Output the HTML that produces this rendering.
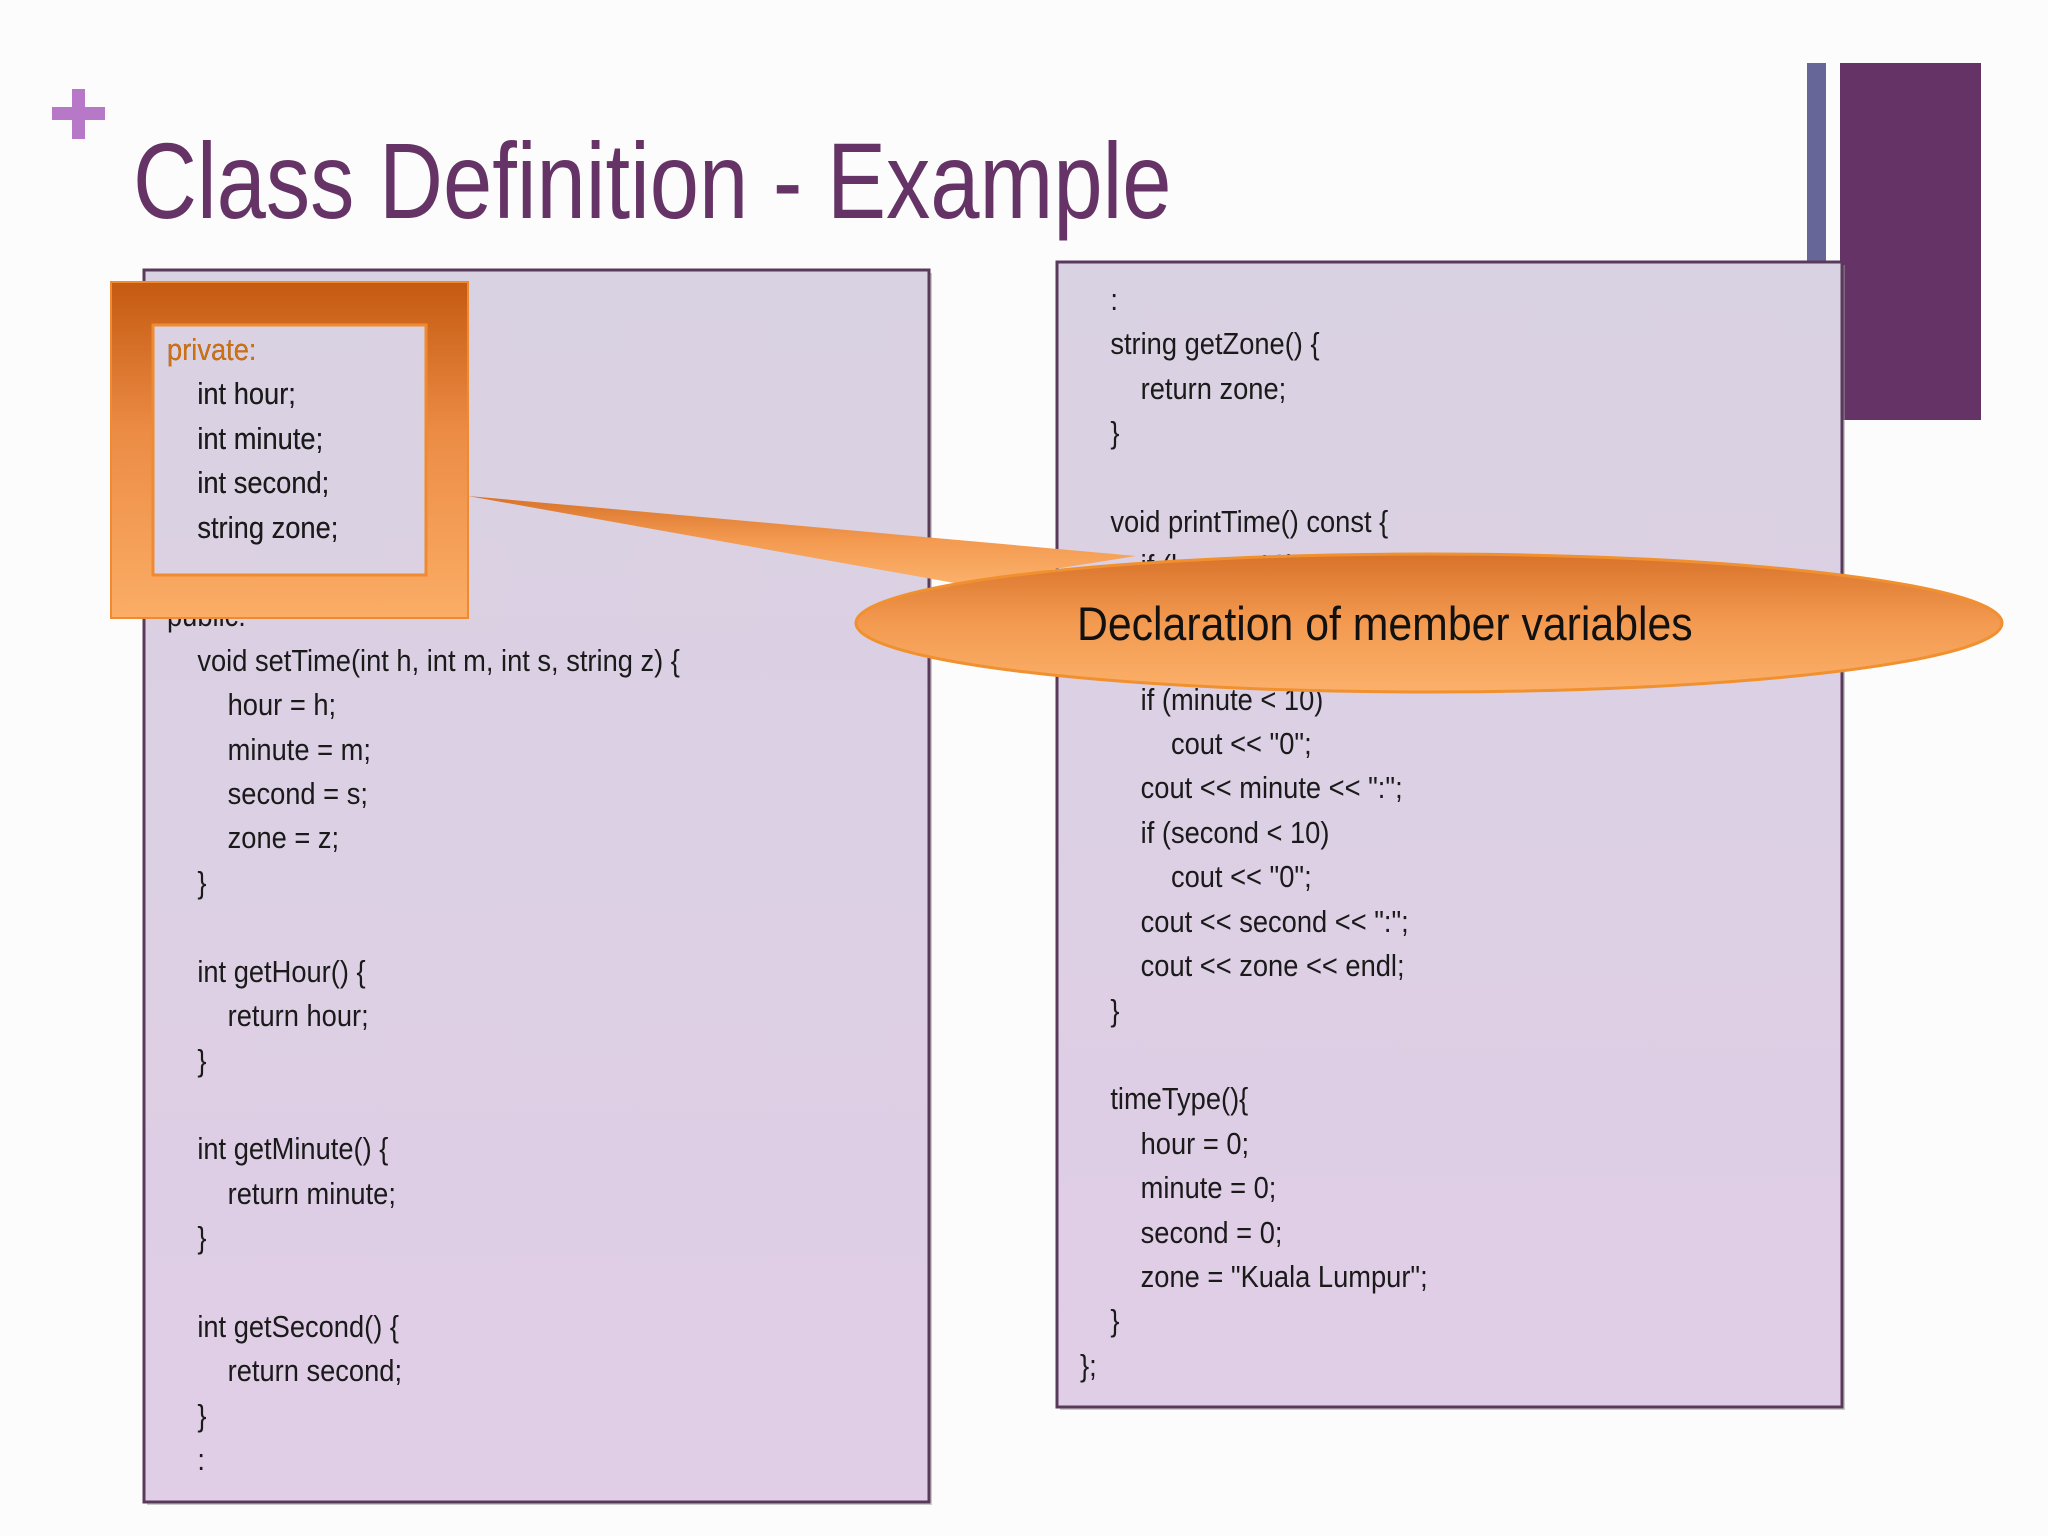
<!DOCTYPE html>
<html><head><meta charset="utf-8"><style>
body{margin:0;width:2048px;height:1536px;background:#fcfcfd;position:relative;overflow:hidden;font-family:"Liberation Sans",sans-serif}
.abs{position:absolute}
.code{position:absolute;font-size:31px;line-height:44.4px;color:#1a1a1a;white-space:pre;transform:scaleX(0.88);transform-origin:0 0}
</style></head><body>
<svg class="abs" style="left:0;top:0" width="2048" height="1536">
<defs>
<linearGradient id="box" x1="0" y1="0" x2="0" y2="1"><stop offset="0" stop-color="#d9d2e2"/><stop offset="1" stop-color="#e0cde6"/></linearGradient>
<linearGradient id="or" x1="0" y1="0" x2="0" y2="1"><stop offset="0" stop-color="#c55a11"/><stop offset="0.45" stop-color="#ec8c45"/><stop offset="1" stop-color="#fbad66"/></linearGradient>
<linearGradient id="ell" x1="0" y1="0" x2="0" y2="1"><stop offset="0" stop-color="#d8722a"/><stop offset="0.5" stop-color="#f39a50"/><stop offset="1" stop-color="#fbb06a"/></linearGradient>
</defs>
<!-- plus -->
<rect x="52" y="107" width="53" height="13" fill="#b878c8"/>
<rect x="72" y="89" width="13" height="50" fill="#b878c8"/>
<!-- right bars -->
<rect x="1807" y="63" width="19" height="210" fill="#666699"/>
<rect x="1840" y="63" width="141" height="357" fill="#663366"/>
<!-- left box -->
<rect x="147" y="273" width="785" height="1232" fill="#999" opacity="0.5"/>
<rect x="144" y="270" width="785" height="1232" fill="url(#box)" stroke="#5a3a5a" stroke-width="3"/>
<!-- right box -->
<rect x="1060" y="265" width="785" height="1145" fill="#999" opacity="0.5"/>
<rect x="1057" y="262" width="785" height="1145" fill="url(#box)" stroke="#5a3a5a" stroke-width="3"/>
</svg>
<div class="code" style="left:167px;top:328px">private:
    int hour;
    int minute;
    int second;
    string zone;

public:
    void setTime(int h, int m, int s, string z) {
        hour = h;
        minute = m;
        second = s;
        zone = z;
    }

    int getHour() {
        return hour;
    }

    int getMinute() {
        return minute;
    }

    int getSecond() {
        return second;
    }
    :</div>
<div class="code" style="left:1080px;top:278px">    :
    string getZone() {
        return zone;
    }

    void printTime() const {
        if (hour &lt; 10)
            cout &lt;&lt; "0";
        cout &lt;&lt; hour &lt;&lt; ":";
        if (minute &lt; 10)
            cout &lt;&lt; "0";
        cout &lt;&lt; minute &lt;&lt; ":";
        if (second &lt; 10)
            cout &lt;&lt; "0";
        cout &lt;&lt; second &lt;&lt; ":";
        cout &lt;&lt; zone &lt;&lt; endl;
    }

    timeType(){
        hour = 0;
        minute = 0;
        second = 0;
        zone = "Kuala Lumpur";
    }
};</div>
<svg class="abs" style="left:0;top:0" width="2048" height="1536">
<!-- orange frame -->
<path fill-rule="evenodd" d="M111 282H468V618H111Z M153 325V575H426V325Z" fill="url(#or)" stroke="#f08a30" stroke-width="2"/>
<rect x="153" y="325" width="273" height="250" fill="none" stroke="#f08a30" stroke-width="3"/>
<!-- callout -->
<path d="M468 496 L1136 556 L960 584 Z" fill="url(#ell)"/>
<ellipse cx="1429" cy="623" rx="573" ry="69" fill="url(#ell)" stroke="#f0902f" stroke-width="3"/>
</svg>
<div class="code" style="left:167px;top:328px;color:#d0700f">private:</div>
<div class="code" style="left:167px;top:328px">
    int hour;
    int minute;
    int second;
    string zone;</div>
<div class="abs" style="left:1077px;top:596px;font-size:47px;line-height:56px;color:#111;white-space:nowrap;transform:scaleX(0.91);transform-origin:0 0">Declaration of member variables</div>
<div class="abs" style="left:133px;top:116px;font-size:108px;line-height:130px;color:#663366;white-space:nowrap;transform:scaleX(0.82);transform-origin:0 0">Class Definition - Example</div>
</body></html>
